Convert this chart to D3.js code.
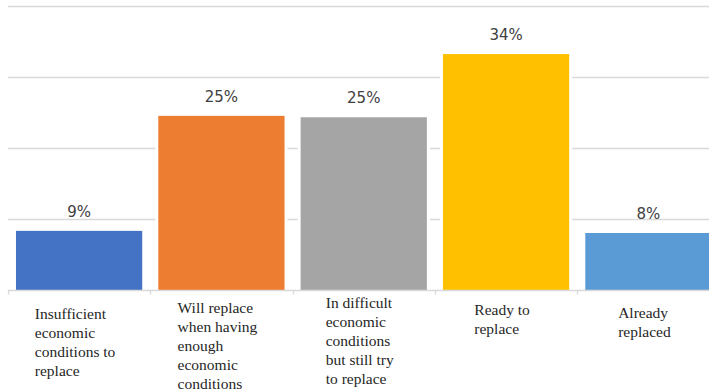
<!DOCTYPE html>
<html>
<head>
<meta charset="utf-8">
<script src="https://cdn.jsdelivr.net/npm/d3@7"></script>
<style>
  body { margin: 0; background: #fff; }
</style>
</head>
<body>
<div id="chart"></div>
<script>
// Data
const categories = [
    ['Insufficient', 'economic', 'conditions to', 'replace'],
    ['Will replace', 'when having', 'enough', 'economic', 'conditions'],
    ['In difficult', 'economic', 'conditions', 'but still try', 'to replace'],
    ['Ready to', 'replace'],
    ['Already', 'replaced']
];
const values = [8.4, 24.6, 24.4, 33.3, 8.1];
const valueLabels = ['9%', '25%', '25%', '34%', '8%'];
const colors = ['#4472C4', '#ED7D31', '#A5A5A5', '#FFC000', '#5B9BD5'];
const gridTicks = [0, 10, 20, 30, 40];

// layout: first-line baseline for each category label block
const labelTop = [319, 313, 308, 315, 318];

const dimensions = { width: 709, height: 391 };

const xScale = d3.scaleBand()
    .domain(d3.range(values.length))
    .range([8, 719.5])
    .paddingInner(0.113)
    .paddingOuter(0.056);

const yScale = d3.scaleLinear()
    .domain([0, 40])
    .range([290.5, 6.5]);

const svg = d3.select('#chart')
    .append('svg')
    .attr('width', dimensions.width)
    .attr('height', dimensions.height)
    .style('display', 'block');

// gridlines
svg.append('g')
    .selectAll('line')
    .data(gridTicks.slice(1))
    .join('line')
    .attr('x1', 8)
    .attr('x2', dimensions.width)
    .attr('y1', d => yScale(d))
    .attr('y2', d => yScale(d))
    .attr('stroke', '#d9d9d9')
    .attr('stroke-width', 1.3);

// white gap round bars
svg.append('g')
    .selectAll('rect')
    .data(values)
    .join('rect')
    .attr('x', (d, i) => xScale(i) - 3)
    .attr('y', d => yScale(d) - 3)
    .attr('width', xScale.bandwidth() + 6)
    .attr('height', d => yScale(0) - yScale(d) + 3)
    .attr('fill', '#fff');

svg.append('g')
    .selectAll('rect')
    .data(values)
    .join('rect')
    .attr('x', (d, i) => xScale(i))
    .attr('y', d => yScale(d))
    .attr('width', xScale.bandwidth())
    .attr('height', d => yScale(0) - yScale(d))
    .attr('fill', (d, i) => colors[i]);

// baseline axis with tick marks between categories
const step = xScale.step();
const xAxisGroup = svg.append('g');
xAxisGroup.append('line')
    .attr('x1', 8).attr('x2', dimensions.width)
    .attr('y1', yScale(0)).attr('y2', yScale(0))
    .attr('stroke', '#d9d9d9').attr('stroke-width', 1.3);
xAxisGroup.selectAll('.tick')
    .data(d3.range(values.length))
    .join('line')
    .attr('class', 'tick')
    .attr('x1', i => Math.round(xScale(i) - step * 0.056) + 0.5)
    .attr('x2', i => Math.round(xScale(i) - step * 0.056) + 0.5)
    .attr('y1', yScale(0))
    .attr('y2', yScale(0) + 4)
    .attr('stroke', '#d9d9d9').attr('stroke-width', 1.3);

// value labels
svg.append('g')
    .selectAll('text')
    .data(values)
    .join('text')
    .attr('x', (d, i) => xScale(i) + xScale.bandwidth() / 2)
    .attr('y', d => yScale(d) - 14)
    .attr('text-anchor', 'middle')
    .attr('font-family', '"DejaVu Sans", Verdana, sans-serif')
    .attr('font-size', 15)
    .attr('fill', '#404040')
    .text((d, i) => valueLabels[i]);

// category labels: left aligned block centred in band
const catGroups = svg.append('g')
    .selectAll('text')
    .data(categories)
    .join('text')
    .attr('font-family', '"Liberation Serif", "Times New Roman", serif')
    .attr('font-size', 15.5)
    .attr('fill', '#262626');

catGroups.each(function(lines, i) {
    const t = d3.select(this);
    t.selectAll('tspan')
        .data(lines)
        .join('tspan')
        .attr('dy', (d, j) => j === 0 ? 0 : 19)
        .text(d => d);
    let maxW = 0;
    t.selectAll('tspan').each(function() {
        maxW = Math.max(maxW, this.getComputedTextLength());
    });
    const x0 = xScale(i) + xScale.bandwidth() / 2 - maxW / 2 - 4;
    t.attr('y', labelTop[i]);
    t.selectAll('tspan').attr('x', x0);
});
</script>
</body>
</html>
